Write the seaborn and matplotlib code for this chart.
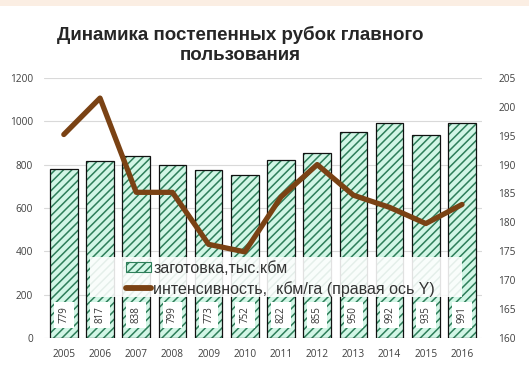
import pandas as pd
import matplotlib
matplotlib.use("Agg")
import matplotlib.pyplot as plt
import seaborn as sns
from matplotlib.patches import Patch, Rectangle
from matplotlib.lines import Line2D

years = ["2005", "2006", "2007", "2008", "2009", "2010",
         "2011", "2012", "2013", "2014", "2015", "2016"]
harvest = [779, 817, 838, 799, 773, 752, 822, 855, 950, 992, 935, 991]
intensity = [195.2, 201.5, 185.2, 185.2, 176.2, 174.9,
             184.4, 190.0, 184.7, 182.6, 179.8, 183.1]

title = "Динамика постепенных рубок главного\nпользования"
bar_name = "заготовка,тыс.кбм"
line_name = "интенсивность,  кбм/га (правая ось Y)"

face_green = "#d2f6e6"
hatch_green = "#2e7f5a"
brown = "#7a4214"

sns.set_style("white")
plt.rcParams["font.family"] = ["Liberation Sans", "DejaVu Sans"]
plt.rcParams["hatch.linewidth"] = 1.1

df = pd.DataFrame({"year": years, "harvest": harvest,
                   "intensity": intensity, "pos": range(len(years))})

fig = plt.figure(figsize=(5.29, 3.69), dpi=100)
ax = fig.add_axes([0.083, 0.084, 0.828, 0.705])
fig.add_artist(Rectangle((0, 0.985), 1, 0.015, transform=fig.transFigure,
                         color="#fbeee3", lw=0))

# hatched bars, then a thin black outline on top
sns.barplot(data=df, x="year", y="harvest", color=face_green, width=0.76,
            edgecolor=hatch_green, linewidth=0, hatch="////", ax=ax,
            saturation=1)
for p in ax.patches:
    p.set_facecolor(face_green)
sns.barplot(data=df, x="year", y="harvest", color="#111111", width=0.76,
            fill=False, linewidth=0.9, ax=ax)

for i, v in enumerate(harvest):
    ax.text(i, 106, str(v), rotation=90, ha="center", va="center",
            fontsize=7, family="Open Sans", color="#333333",
            bbox=dict(boxstyle="square,pad=0.45", fc="white", ec="none"))

ax.set_ylim(0, 1200)
ax.set_yticks(range(0, 1201, 200))
ax.set_xlim(-0.55, len(years) - 0.45)
ax.yaxis.grid(True, color="#d9d9d9", lw=0.8)
ax.set_axisbelow(True)
ax.set_xlabel("")
ax.set_ylabel("")
ax.tick_params(length=0, labelsize=7.3, colors="#404040", pad=8)
for lab in ax.get_xticklabels() + ax.get_yticklabels():
    lab.set_family("Open Sans")
for s in ax.spines.values():
    s.set_visible(False)

ax2 = ax.twinx()
sns.lineplot(data=df, x="pos", y="intensity", color=brown, lw=3.8, ax=ax2)
ax2.set_ylim(160, 205)
ax2.set_yticks(range(160, 206, 5))
ax2.set_ylabel("")
ax2.tick_params(length=0, labelsize=7.3, colors="#404040", pad=12)
for lab in ax2.get_yticklabels():
    lab.set_family("Open Sans")
for s in ax2.spines.values():
    s.set_visible(False)

# white box behind the legend, wider than its content
ax2.add_patch(Rectangle((0.105, 0.158), 0.849, 0.152, transform=ax2.transAxes,
                        fc="white", ec="none", alpha=0.88, zorder=4))
handles = [Patch(facecolor=face_green, edgecolor=hatch_green, hatch="////", lw=0.8),
           Line2D([], [], color=brown, lw=4.2)]
leg = ax2.legend(handles, [bar_name, line_name], loc="center left",
                 bbox_to_anchor=(0.188, 0.228), fontsize=11.5, frameon=False,
                 borderaxespad=0, borderpad=0, handlelength=1.55,
                 handleheight=0.6, handletextpad=0.15, labelspacing=0.3)
leg.set_zorder(5)
for t in leg.get_texts():
    t.set_color("#333333")

fig.text(0.455, 0.93, title, ha="center", va="top", fontsize=13.5,
         fontweight="bold", linespacing=1.25)

fig.savefig("out.png", dpi=100)
